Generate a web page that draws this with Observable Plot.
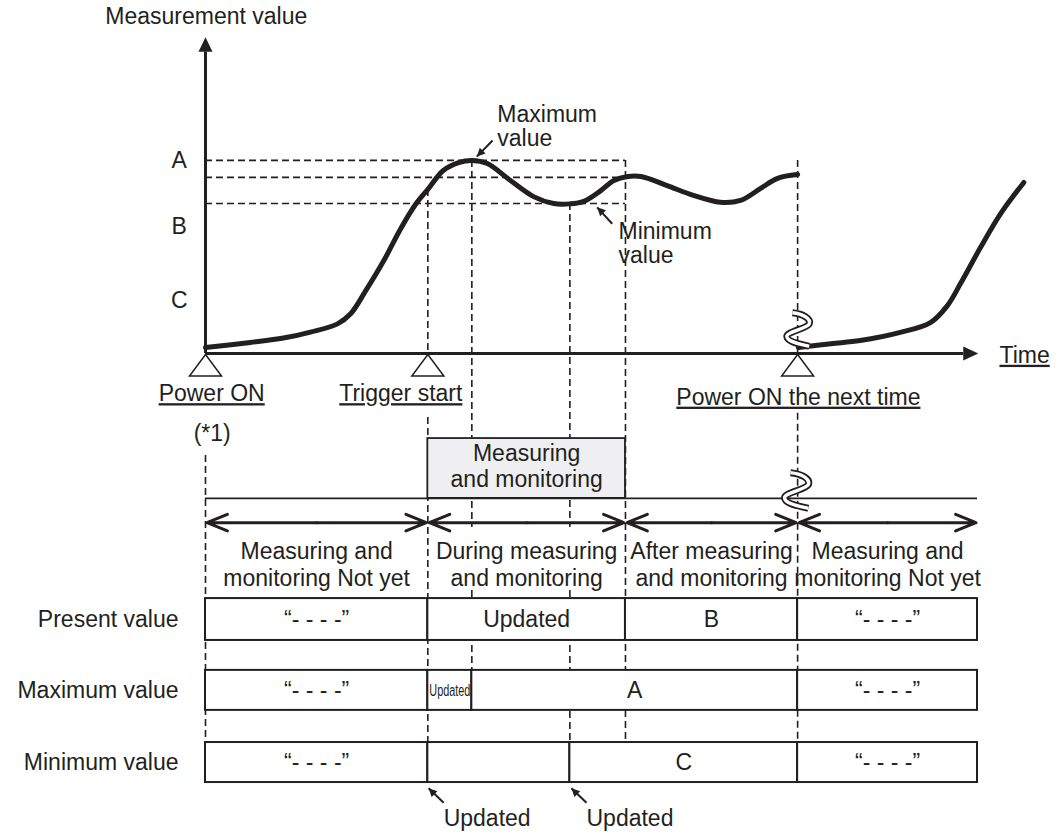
<!DOCTYPE html>
<html>
<head>
<meta charset="utf-8">
<script src="https://cdn.jsdelivr.net/npm/d3@7"></script>
<script src="https://cdn.jsdelivr.net/npm/@observablehq/plot@0.6"></script>
<style>
html,body{margin:0;padding:0;background:#fff;overflow:hidden}
</style>
</head>
<body>
<div id="chart"></div>
<script>
const INK = "#231f20";
const FONT = "'Liberation Sans', Arial, Helvetica, sans-serif";

// ================= DATA =================
// Time units: 0 = Power ON, 100 = right end of the status table.
// Value units: 0 = time axis, 100 = top of the measurement-value axis.
const axisTitle = "Measurement value";
const timeTitle = "Time";

const eventLabels = ["Power ON", "Trigger start", "Power ON the next time"];
const eventTimes = [0, 28.8, 76.7];
const eventLabelTimes = [0.8, 25.3, 76.8];
const footnoteLabel = "(*1)";

const maximumTime = 34.5;
const minimumTime = 47.2;
const measureEndTime = 54.4;
const tableEndTime = 100;

const levelLabels = ["A", "B", "C"];
const levelLabelValues = [61.3, 40.3, 16.8];
const guideLevels = [61.3, 55.9, 47.6];

const curveTime  = [0, 5.8, 10.1, 13.6, 17.1, 18.8, 20.7, 23.1, 25.3, 27.2, 28.8, 30.8, 32.8, 34.5, 36.5, 39.5, 42.5, 45.1, 47.2, 49.0, 51.2, 52.9, 54.7, 56.4, 59.8, 63.2, 66.7, 69.3, 71.9, 74.1, 76.7];
const curveValue = [1.9, 3.5, 4.9, 6.8, 9.4, 12.6, 19.7, 29.5, 39.7, 47.3, 52.1, 58.1, 60.6, 61.3, 60.3, 54.9, 49.8, 47.6, 47.5, 48.3, 51.7, 54.9, 56.2, 56.2, 53.3, 50.2, 48.0, 48.6, 52.4, 55.6, 56.8];

const nextCurveTime  = [76.8, 81.0, 84.8, 90.0, 93.9, 96.1, 97.8, 100.4, 103.0, 106.0];
const nextCurveValue = [1.9, 3.1, 4.1, 6.7, 9.8, 15.2, 22.2, 33.7, 44.4, 54.3];

const maximumNote = "Maximum\nvalue";
const minimumNote = "Minimum\nvalue";
const measuringLabel = "Measuring\nand monitoring";

const periodBounds = [0, 28.8, 54.4, 76.7, 100];
const periodLabels = ["Measuring and\nmonitoring Not yet", "During measuring\nand monitoring", "After measuring\nand monitoring", "Measuring and\nmonitoring Not yet"];

const rowLabels = ["Present value", "Maximum value", "Minimum value"];
const presentBounds = [0, 28.8, 54.4, 76.7, 100];
const presentTexts  = ["\u201c- - - -\u201d", "Updated", "B", "\u201c- - - -\u201d"];
const maximumBounds = [0, 28.8, 34.5, 76.7, 100];
const maximumTexts  = ["\u201c- - - -\u201d", "Updated", "A", "\u201c- - - -\u201d"];
const minimumBounds = [0, 28.8, 47.2, 76.7, 100];
const minimumTexts  = ["\u201c- - - -\u201d", "", "C", "\u201c- - - -\u201d"];

const updateNoteLabel = "Updated";
const updateNoteTimes = [28.9, 47.4];

// ================= LAYOUT (value units) =================
const L = {
  titleV: 107.0,
  timeLabelT: 106.1, timeLabelV: -0.6,
  levelLabelT: -3.4,
  eventLabelV: [-12.8, -12.8, -13.9],
  footT: 0.87, footV: -25.4,
  yAxisTop: 95.7, yArrowTip: 100.4, xAxisEnd: 98.2, xArrowTip: 100.1,
  boxTop: -27.0, boxBottom: -46.0, boxTextV: -35.7,
  lineV: -46.0,
  arrowV: -53.7,
  periodTextV: -66.8,
  rowBands: [[-77.8, -91.1], [-100.6, -113.3], [-123.5, -136.2]],
  rowLabelT: -3.5,
  noteTextV: -147.6, noteTailDT: 1.95, noteTailV: -142.6, noteTipV: -138.0,
  labelGapTop: 0, labelGapBottomA: -20.3, labelGapBottomB: -19.0,
  textGapTop: -55.2, textGapBottom: -75.2
};

// ================= DERIVED TABLES =================
const curve = curveTime.map((t, i) => ({t, v: curveValue[i]}));
const nextCurve = nextCurveTime.map((t, i) => ({t, v: nextCurveValue[i]}));

const vGuides = [
  {t: eventTimes[0], y1: -32.4, y2: L.rowBands[2][0]},
  {t: eventTimes[1], y1: 52.1, y2: L.labelGapTop},
  {t: eventTimes[1], y1: L.labelGapBottomA, y2: L.rowBands[2][0]},
  {t: maximumTime, y1: guideLevels[0], y2: L.textGapTop},
  {t: maximumTime, y1: L.textGapBottom, y2: L.rowBands[1][0]},
  {t: minimumTime, y1: guideLevels[2], y2: L.textGapTop},
  {t: minimumTime, y1: L.textGapBottom, y2: L.rowBands[2][0]},
  {t: measureEndTime, y1: guideLevels[0], y2: L.rowBands[2][0]},
  {t: eventTimes[2], y1: guideLevels[0], y2: L.labelGapTop},
  {t: eventTimes[2], y1: L.labelGapBottomB, y2: L.rowBands[2][0]}
];

const periods = periodLabels.map((label, i) => ({
  a: periodBounds[i], b: periodBounds[i + 1], mid: (periodBounds[i] + periodBounds[i + 1]) / 2, label
}));

const rowBounds = [presentBounds, maximumBounds, minimumBounds];
const rowTexts = [presentTexts, maximumTexts, minimumTexts];
const cells = rowBounds.flatMap((b, r) => rowTexts[r].map((text, i) => ({
  x1: b[i], x2: b[i + 1], y1: L.rowBands[r][0], y2: L.rowBands[r][1],
  xm: (b[i] + b[i + 1]) / 2, ym: (L.rowBands[r][0] + L.rowBands[r][1]) / 2,
  text, small: (b[i + 1] - b[i]) < 8
})));

const rows = rowLabels.map((label, r) => ({label, v: (L.rowBands[r][0] + L.rowBands[r][1]) / 2}));

// small pointer arrows (tail -> tip), in data units
const pointers = [
  {x1: 37.18, y1: 67.6, x2: maximumTime + 0.64, y2: 62.5, dir: "sw"},
  {x1: 52.68, y1: 41.2, x2: 50.73, y2: 46.4, dir: "nw"},
  ...updateNoteTimes.map(t => ({x1: t + L.noteTailDT, y1: L.noteTailV, x2: t, y2: L.noteTipV, dir: "nw"}))
];

// ================= SYMBOLS =================
const unit = (size) => Math.sqrt(size / Math.PI) / 10; // r = 10 -> 1 unit = 1 px
const arrowUp = {draw(c, size) { const s = unit(size); c.moveTo(0, 0); c.lineTo(7 * s, 14.5 * s); c.lineTo(-7 * s, 14.5 * s); c.closePath(); }};
const arrowRight = {draw(c, size) { const s = unit(size); c.moveTo(0, 0); c.lineTo(-15 * s, -7 * s); c.lineTo(-15 * s, 7 * s); c.closePath(); }};
const headNW = {draw(c, size) { const s = unit(size); c.moveTo(0, 0); c.lineTo(8.8 * s, 3.0 * s); c.lineTo(3.0 * s, 8.8 * s); c.closePath(); }};
const headSW = {draw(c, size) { const s = unit(size); c.moveTo(0, 0); c.lineTo(8.8 * s, -3.0 * s); c.lineTo(3.0 * s, -8.8 * s); c.closePath(); }};
const eventMarker = {draw(c, size) { const s = unit(size); c.moveTo(0, 0); c.lineTo(16 * s, 21.5 * s); c.lineTo(-16 * s, 21.5 * s); c.closePath(); }};
const breakMark = {draw(c, size) {
  const s = unit(size);
  c.moveTo(-5 * s, -15 * s);
  c.bezierCurveTo(4 * s, -14 * s, 12 * s, -10 * s, 10 * s, -5 * s);
  c.bezierCurveTo(8 * s, -1 * s, -10 * s, 2 * s, -10 * s, 6 * s);
  c.bezierCurveTo(-10 * s, 11 * s, 2 * s, 13 * s, 10 * s, 15 * s);
}};

// ================= PLOT =================
const fs = 23;
const dash = {stroke: INK, strokeWidth: 1.6, strokeDasharray: "7,4"};

const chart = Plot.plot({
  width: 1062,
  height: 832,
  margin: 0,
  style: {fontFamily: FONT, fontSize: fs + "px", color: INK, background: "white"},
  x: {type: "linear", domain: [-26.554, 111.010], range: [0, 1062], axis: null},
  y: {type: "linear", domain: [112.063, -152.063], range: [0, 832], axis: null},
  marks: [
    // dashed guides
    Plot.ruleY(guideLevels, {y: d => d, x1: () => 0, x2: () => measureEndTime, ...dash}),
    Plot.ruleX(vGuides, {x: "t", y1: "y1", y2: "y2", ...dash}),

    // measuring & monitoring box
    Plot.rect([{x1: eventTimes[1], x2: measureEndTime}], {x1: "x1", x2: "x2", y1: () => L.boxTop, y2: () => L.boxBottom, fill: "#efeff1", stroke: INK, strokeWidth: 1.8}),
    Plot.text([measuringLabel], {x: () => (eventTimes[1] + measureEndTime) / 2, y: () => L.boxTextV, text: d => d, lineHeight: 1.09}),

    // period line and double arrows
    Plot.ruleY([L.lineV], {y: d => d, x1: () => 0, x2: () => tableEndTime, stroke: INK, strokeWidth: 1.8}),
    Plot.arrow(periods, {x1: "mid", x2: "b", y1: () => L.arrowV, y2: () => L.arrowV, stroke: INK, strokeWidth: 3, headLength: 11, headAngle: 44, insetEnd: 1.5}),
    Plot.arrow(periods, {x1: "mid", x2: "a", y1: () => L.arrowV, y2: () => L.arrowV, stroke: INK, strokeWidth: 3, headLength: 11, headAngle: 44, insetEnd: 1.5}),
    Plot.text(periods, {x: "mid", y: () => L.periodTextV, text: "label", lineHeight: 1.17}),

    // status rows
    Plot.rect(cells, {x1: "x1", x2: "x2", y1: "y1", y2: "y2", fill: "white", stroke: INK, strokeWidth: 2}),
    Plot.text(cells.filter(d => d.text && !d.small), {x: "xm", y: "ym", text: "text"}),
    Plot.text(cells.filter(d => d.text && d.small), {x: "xm", y: "ym", text: "text", fontSize: 16}),
    Plot.text(rows, {x: () => L.rowLabelT, y: "v", text: "label", textAnchor: "end"}),

    // "Updated" notes under the table
    Plot.text(updateNoteTimes, {x: d => d + L.noteTailDT, y: () => L.noteTextV, text: () => updateNoteLabel, textAnchor: "start"}),

    // axes
    Plot.ruleX([0], {x: d => d, y1: () => 0, y2: () => L.yAxisTop, stroke: INK, strokeWidth: 3}),
    Plot.ruleY([0], {y: d => d, x1: () => 0, x2: () => L.xAxisEnd, stroke: INK, strokeWidth: 3}),
    Plot.dot([0], {x: d => d, y: () => L.yArrowTip, symbol: arrowUp, r: 10, fill: INK, stroke: "none"}),
    Plot.dot([0], {x: () => L.xArrowTip, y: d => d, symbol: arrowRight, r: 10, fill: INK, stroke: "none"}),

    // measurement curves
    Plot.line(curve, {x: "t", y: "v", curve: "catmull-rom", stroke: INK, strokeWidth: 5, strokeLinecap: "round"}),
    Plot.line(nextCurve, {x: "t", y: "v", curve: "catmull-rom", stroke: INK, strokeWidth: 5, strokeLinecap: "round"}),

    // event markers
    Plot.dot(eventTimes, {x: d => d, y: () => -0.3, symbol: eventMarker, r: 10, fill: "white", stroke: INK, strokeWidth: 1.5}),

    // break marks
    Plot.dot([eventTimes[2]], {x: d => d + 0.05, y: () => 7.6, symbol: breakMark, r: 11.2, fill: "none", stroke: INK, strokeWidth: 7}),
    Plot.dot([eventTimes[2]], {x: d => d + 0.05, y: () => 7.6, symbol: breakMark, r: 11.2, fill: "none", stroke: "white", strokeWidth: 3.4}),
    Plot.dot([eventTimes[2]], {x: d => d - 0.15, y: () => -43.5, symbol: breakMark, r: 11.9, fill: "none", stroke: INK, strokeWidth: 7}),
    Plot.dot([eventTimes[2]], {x: d => d - 0.15, y: () => -43.5, symbol: breakMark, r: 11.9, fill: "none", stroke: "white", strokeWidth: 3.4}),

    // texts
    Plot.text([axisTitle], {x: () => 0.1, y: () => L.titleV, text: d => d}),
    Plot.text([timeTitle], {x: () => L.timeLabelT, y: () => L.timeLabelV, text: d => d}),
    Plot.text(levelLabels, {x: () => L.levelLabelT, y: (d, i) => levelLabelValues[i], text: d => d}),
    Plot.text(eventLabels, {x: (d, i) => eventLabelTimes[i], y: (d, i) => L.eventLabelV[i], text: d => d}),
    Plot.text([footnoteLabel], {x: () => L.footT, y: () => L.footV, text: d => d}),
    Plot.text([maximumNote], {x: () => 37.8, y: () => 72.2, text: d => d, textAnchor: "start", lineHeight: 1.03}),
    Plot.text([minimumNote], {x: () => 53.5, y: () => 34.9, text: d => d, textAnchor: "start", lineHeight: 1.03}),

    // pointer arrows (shaft + filled head)
    Plot.link(pointers, {x1: "x1", y1: "y1", x2: "x2", y2: "y2", stroke: INK, strokeWidth: 2}),
    Plot.dot(pointers.filter(d => d.dir === "nw"), {x: "x2", y: "y2", symbol: headNW, r: 10, fill: INK, stroke: "none"}),
    Plot.dot(pointers.filter(d => d.dir === "sw"), {x: "x2", y: "y2", symbol: headSW, r: 10, fill: INK, stroke: "none"})
  ]
});

// underline the event/axis labels; compress the narrow "Updated" cell text
const underlined = {"Power ON": 5, "Trigger start": 5, "Power ON the next time": 5, "Time": 8};
chart.querySelectorAll("text").forEach(el => {
  const s = el.textContent;
  if (s in underlined && el.querySelectorAll("tspan").length === 0) {
    el.style.textDecoration = "underline";
    el.style.textDecorationThickness = "1.5px";
    el.style.textUnderlineOffset = underlined[s] + "px";
  }
});
chart.querySelectorAll("g[font-size='16'] text").forEach(el => {
  el.setAttribute("textLength", 41);
  el.setAttribute("lengthAdjust", "spacingAndGlyphs");
});

document.getElementById("chart").appendChild(chart);
</script>
</body>
</html>
